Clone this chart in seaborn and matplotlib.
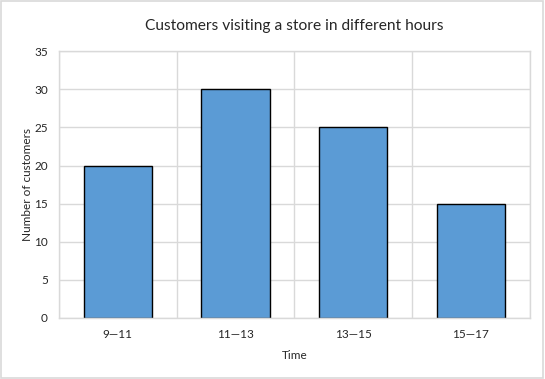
import matplotlib
matplotlib.use("Agg")
import matplotlib.pyplot as plt
import seaborn as sns
import pandas as pd
from matplotlib.patches import Rectangle

# ----------------------
# data
# ----------------------
hours = ["9\u201411", "11\u201413", "13\u201415", "15\u201417"]
customers = [20, 30, 25, 15]

df = pd.DataFrame({"Time": hours, "Customers": customers})

sns.set_style("white")
plt.rcParams["font.family"] = ["Lato", "DejaVu Sans"]

fig = plt.figure(figsize=(5.45, 3.79), dpi=100)
ax = fig.add_axes([0.108, 0.161, 0.864, 0.704])

sns.barplot(data=df, x="Time", y="Customers", color="#5B9BD5",
            edgecolor="black", linewidth=1.0, width=0.58, saturation=1, ax=ax)

ax.set_ylim(0, 35)
ax.set_yticks(range(0, 36, 5))
ax.set_xlim(-0.5, 3.5)
ax.set_xticks([-0.5, 0.5, 1.5, 2.5, 3.5], minor=False)
ax.set_xticklabels([""] * 5)
ax.set_xticks(range(4), minor=True)
ax.set_xticklabels(hours, minor=True)
ax.tick_params(axis="x", which="minor", length=0, labelsize=8.5, pad=8)
ax.tick_params(axis="x", which="major", length=0)
ax.tick_params(axis="y", length=5, color="#d9d9d9", labelsize=8.5, pad=3)

ax.grid(True, axis="y", color="#d9d9d9", linewidth=1)
ax.grid(True, axis="x", which="major", color="#d9d9d9", linewidth=1)
ax.set_axisbelow(True)
for s in ax.spines.values():
    s.set_visible(True)
    s.set_color("#d9d9d9")
    s.set_linewidth(1)

ax.set_xlabel("Time", fontsize=8.5, labelpad=7)
ax.set_ylabel("Number of customers", fontsize=8.5, labelpad=1)
ax.set_title("Customers visiting a store in different hours", fontsize=11.2, pad=15)

fig.patches.append(Rectangle((0.002, 0.003), 0.995, 0.994, transform=fig.transFigure,
                             fill=False, edgecolor="#d9d9d9", linewidth=1.2))

fig.savefig("out.png", dpi=100)
